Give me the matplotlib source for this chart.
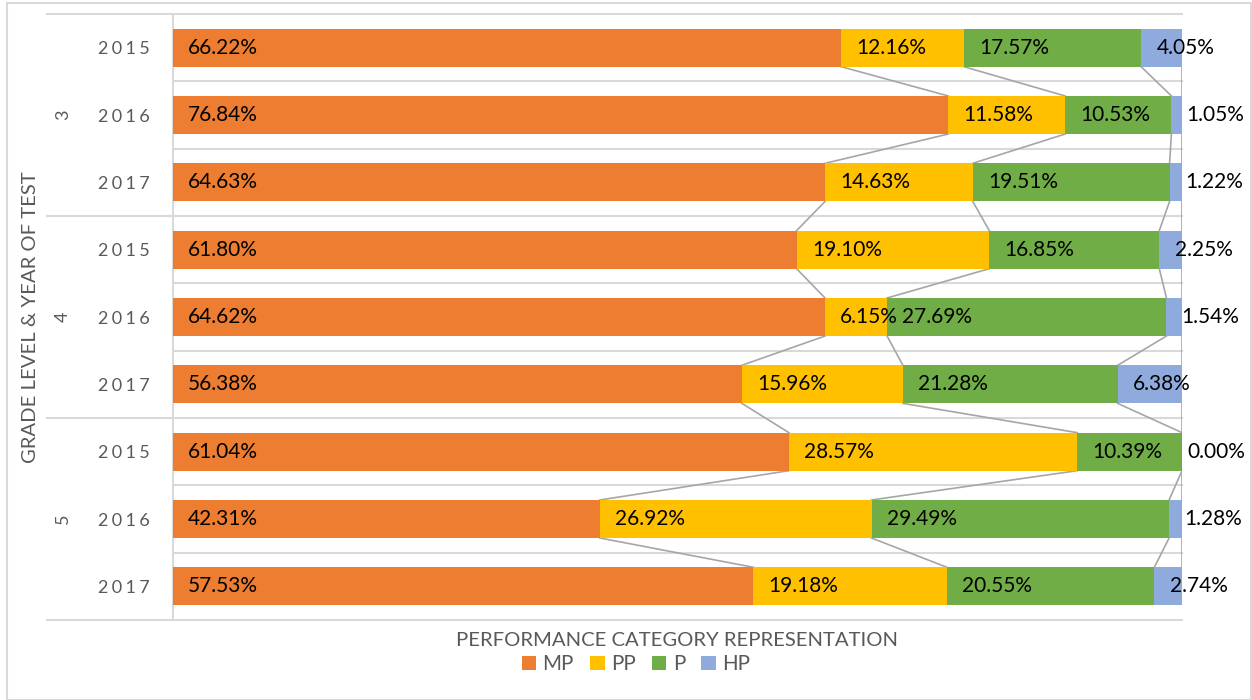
import numpy as np
import matplotlib
matplotlib.use("Agg")
import matplotlib.pyplot as plt
from matplotlib.patches import Rectangle, Patch

plt.rcParams['font.family'] = ['Lato', 'DejaVu Sans']

# data (percent of students)
grades = ['3', '4', '5']
years = ['2015', '2016', '2017']
categories = ['MP', 'PP', 'P', 'HP']
colors = ['#ED7D31', '#FFC000', '#70AD47', '#8FAADC']

mp = [66.22, 76.84, 64.63, 61.80, 64.62, 56.38, 61.04, 42.31, 57.53]
pp = [12.16, 11.58, 14.63, 19.10, 6.15, 15.96, 28.57, 26.92, 19.18]
p = [17.57, 10.53, 19.51, 16.85, 27.69, 21.28, 10.39, 29.49, 20.55]
hp = [4.05, 1.05, 1.22, 2.25, 1.54, 6.38, 0.00, 1.28, 2.74]

series = [mp, pp, p, hp]
nrows = len(mp)
rows = np.arange(nrows)
bar_h = 0.565
gray_txt = '#595959'
grid_col = '#D9D9D9'

fig = plt.figure(figsize=(12.52, 7.0), dpi=100)
ax = fig.add_axes([173/1252, 1 - 620/700, (1182-173)/1252, (620-14)/700])

# chart border
fig.patches.append(Rectangle((7/1252, 0), 1244/1252, 697/700, transform=fig.transFigure,
                             fill=False, edgecolor=grid_col, lw=1.5))

left = np.zeros(nrows)
cum = []
for vals, col in zip(series, colors):
    vals = np.array(vals)
    ax.barh(rows, vals, left=left, height=bar_h, color=col, zorder=3)
    for i in range(nrows):
        # labels that would run off the chart are pulled in
        off = 11 if left[i] < 99.5 else 4
        ax.annotate('%.2f%%' % vals[i], (left[i], rows[i]), xytext=(off, 0),
                    textcoords='offset points', ha='left', va='center',
                    fontsize=15, color='black', zorder=5, annotation_clip=False)
    left = left + vals
    cum.append(left.copy())

# series lines between consecutive bars
for c in cum:
    for i in range(nrows - 1):
        ax.plot([c[i], c[i+1]], [rows[i] + bar_h/2, rows[i+1] - bar_h/2],
                color='#A6A6A6', lw=1.2, zorder=2)

ax.set_xlim(0, 100)
ax.set_ylim(nrows - 0.5, -0.5)

# category boundary lines
ytr = ax.get_yaxis_transform()
for b in np.arange(-0.5, nrows, 1.0):
    x0 = -0.125 if (b + 0.5) % 3 == 0 else 0
    ax.plot([x0, 1], [b, b], transform=ytr, color=grid_col, lw=1.5,
            clip_on=False, zorder=1)
ax.plot([0, 0], [-0.5, nrows - 0.5], transform=ytr, color=grid_col, lw=1.5,
        clip_on=False, zorder=1)

for s in ax.spines.values():
    s.set_visible(False)
ax.set_xticks([])
ax.set_yticks(rows)
ax.set_yticklabels(['\u2009\u200a'.join(y) for g in grades for y in years],
                   fontsize=13, color=gray_txt)
ax.tick_params(axis='y', length=0, pad=17)

for k, g in enumerate(grades):
    ax.text(-0.109, 3*k + 1, g, transform=ytr, rotation=90, ha='center',
            va='center', fontsize=13, color=gray_txt)

ax.text(-0.1417, 4, 'GRADE LEVEL & YEAR OF TEST', transform=ytr, rotation=90,
        ha='center', va='center', fontsize=14.6, color=gray_txt)

fig.text(677/1252, 1 - 640/700, 'PERFORMANCE CATEGORY REPRESENTATION',
         ha='center', va='center', fontsize=14.6, color=gray_txt)

handles = [Patch(facecolor=c, label=n) for c, n in zip(colors, categories)]
fig.legend(handles=handles, loc='center', bbox_to_anchor=(636/1252, 1 - 664/700),
           ncol=4, frameon=False, fontsize=14.8, labelcolor=gray_txt,
           handlelength=0.7, handleheight=0.7, handletextpad=0.3,
           columnspacing=0.8)

fig.savefig('out.png', dpi=100)
